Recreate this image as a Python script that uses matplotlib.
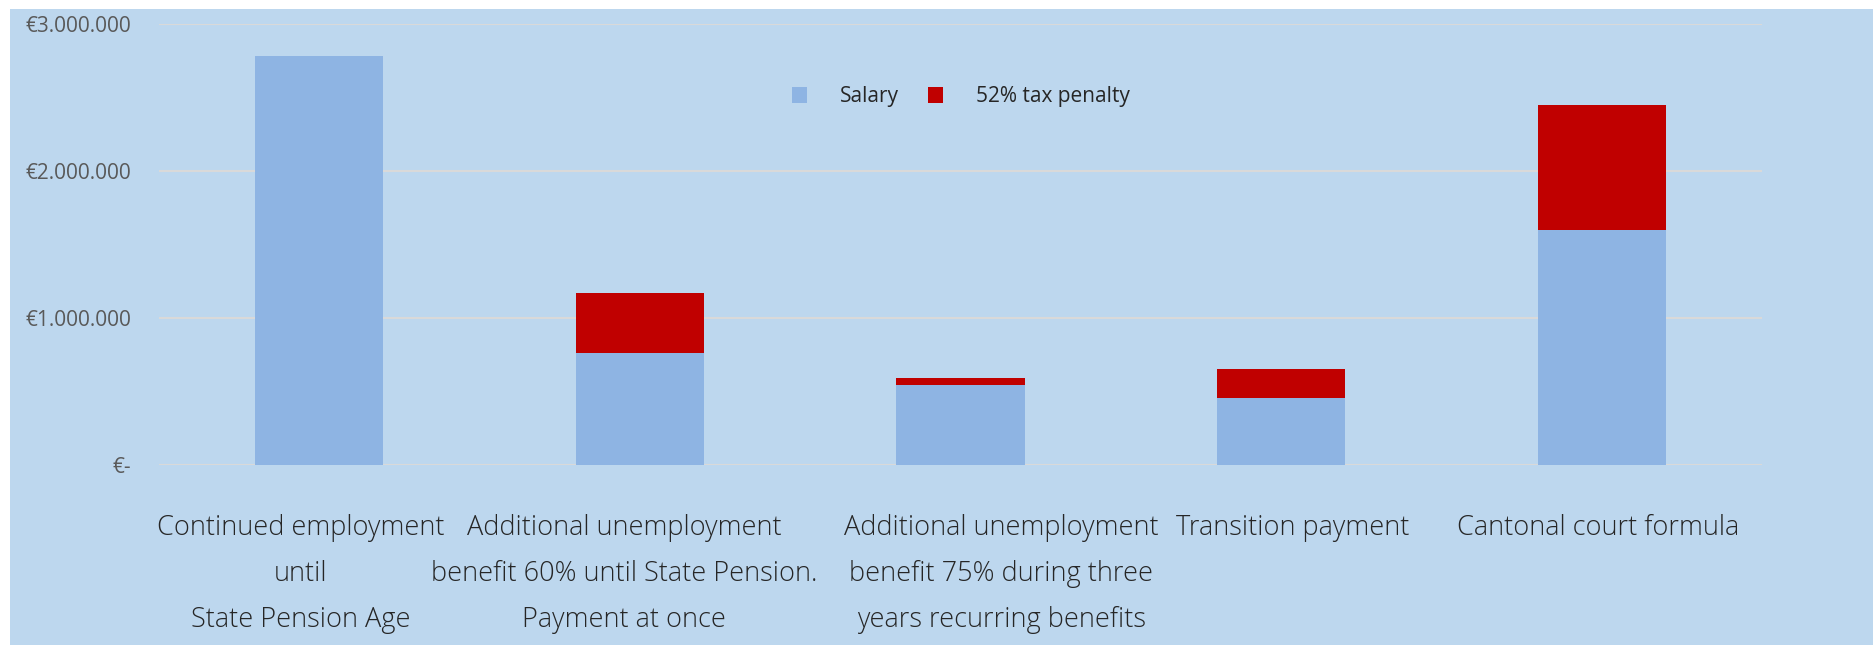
import matplotlib.pyplot as plt
from matplotlib.patches import Rectangle
from matplotlib.ticker import FuncFormatter
from matplotlib.transforms import ScaledTranslation

categories = [
    "Continued employment\nuntil\nState Pension Age",
    "Additional unemployment\nbenefit 60% until State Pension.\nPayment at once",
    "Additional unemployment\nbenefit 75% during three\nyears recurring benefits",
    "Transition payment",
    "Cantonal court formula",
]
salary = [2780000, 765000, 545000, 455000, 1600000]
tax_penalty = [0, 405000, 48000, 195000, 847000]
y_ticks = [0, 1000000, 2000000, 3000000]

# Excel nudges the wrapped labels sideways so they don't collide (pixels)
label_shift = [-19, -16, 41, 12, -4]

bg = "#BDD7EE"
plt.rcParams["font.family"] = ["Open Sans", "DejaVu Sans"]

fig = plt.figure(figsize=(18.74, 6.45), dpi=100, facecolor="white")
fig.patches.append(Rectangle((10 / 1874, 0), 1, 1 - 9 / 645, transform=fig.transFigure,
                             facecolor=bg, edgecolor="none", zorder=-10))
ax = fig.add_axes([159 / 1874, 1 - 465 / 645, 1603 / 1874, 441 / 645])
ax.set_facecolor(bg)

x = range(len(categories))
ax.bar(x, salary, width=0.4, color="#8EB4E3", label="Salary", zorder=3)
ax.bar(x, tax_penalty, width=0.4, bottom=salary, color="#C00000", label="52% tax penalty", zorder=3)

ax.set_xlim(-0.5, len(categories) - 0.5)
ax.set_ylim(0, 3000000)
ax.set_yticks(y_ticks)
ax.yaxis.set_major_formatter(FuncFormatter(
    lambda v, p: "€-" if v == 0 else "€" + f"{int(v):,}".replace(",", ".")))
ax.grid(axis="y", color="#D9D9D9", linewidth=1.5, zorder=0)
for s in ax.spines.values():
    s.set_visible(False)
ax.tick_params(axis="y", length=0, pad=20, labelsize=15, labelcolor="#595959")
ax.set_xticks(list(x))
ax.set_xticklabels(categories, fontsize=19.5, color="#262626", linespacing=1.86, fontweight="light")
ax.tick_params(axis="x", length=0, pad=35)
for lbl, dx in zip(ax.get_xticklabels(), label_shift):
    lbl.set_transform(lbl.get_transform() + ScaledTranslation(dx / 100, 0, fig.dpi_scale_trans))

ax.legend(loc="center", bbox_to_anchor=(0.5, 0.835), ncol=2, frameon=False,
          fontsize=15, handlelength=0.75, handleheight=0.75, handletextpad=1.55,
          columnspacing=1.4, labelcolor="#262626")

fig.savefig("out.png", dpi=100, facecolor=fig.get_facecolor())
